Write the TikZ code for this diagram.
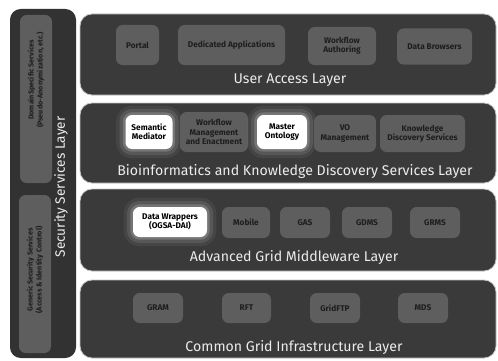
\documentclass[tikz,border=0pt]{standalone}
\usepackage{fontspec}
\setmainfont{Fira Sans}
\definecolor{layerfill}{HTML}{3A3A3A}
\definecolor{panelfill}{HTML}{323232}
\definecolor{boxfill}{HTML}{5E5E5E}
\definecolor{boxtext}{HTML}{1E1E1E}
\definecolor{labeltext}{HTML}{ECECEC}
\definecolor{layerline}{HTML}{C4C4C4}
\begin{document}
\begin{tikzpicture}[x=0.75pt,y=-0.75pt,
  layerbox/.style={draw=layerline,line width=0.6pt,fill=layerfill,rounded corners=9pt,inner sep=0pt},
  panelbox/.style={fill=panelfill,rounded corners=8pt,inner sep=0pt},
  sidebox/.style={fill=boxfill,rounded corners=5pt,inner sep=0pt},
  compbox/.style={fill=boxfill,rounded corners=5pt,inner sep=1pt,align=center,
    text=boxtext,font=\fontsize{6.2}{7}\selectfont\bfseries},
  whitebox/.style={compbox,fill=white,text=black,
    preaction={draw=white,line width=14pt,opacity=0.06},
    preaction={draw=white,line width=9pt,opacity=0.10},
    preaction={draw=white,line width=4pt,opacity=0.18}},
  layerlabel/.style={text=labeltext,font=\fontsize{10.6}{12}\selectfont},
  sidetext/.style={text=boxtext,font=\fontsize{5.4}{6.8}\selectfont\bfseries,align=center,rotate=90}
]
\useasboundingbox[fill=white] (0,0) rectangle (498,360);

% left security panel
\node[panelbox,minimum width=66*0.75pt,minimum height=349*0.75pt] (panel) at (43,183.5) {};
\node[sidebox,minimum width=32*0.75pt,minimum height=168*0.75pt] (domain) at (36,99) {};
\node[sidebox,minimum width=32*0.75pt,minimum height=158*0.75pt] (generic) at (35,274) {};
\node[sidetext] (domaintxt) at (36,80) {DomainSpecific Services\\(Pseudo-Anonymization, etc.)};
\node[sidetext] (generictxt) at (35,270) {Generic Security Services\\(Access \& Identity Control)};
\node[layerlabel,rotate=90,font=\fontsize{10.2}{12}\selectfont] (sectxt) at (61,187) {Security Services Layer};

% layers
\node[layerbox,minimum width=416*0.75pt,minimum height=81*0.75pt] (ual) at (288,54.5) {};
\node[layerbox,minimum width=416*0.75pt,minimum height=80*0.75pt] (bio) at (288,143) {};
\node[layerbox,minimum width=416*0.75pt,minimum height=82*0.75pt] (agm) at (288,230) {};
\node[layerbox,minimum width=416*0.75pt,minimum height=78*0.75pt] (cgi) at (288,319) {};

\node[layerlabel] (ualtxt) at (290,80) {User Access Layer};
\node[layerlabel] (biotxt) at (295,171) {Bioinformatics and Knowledge Discovery Services Layer};
\node[layerlabel] (agmtxt) at (294,257) {Advanced Grid Middleware Layer};
\node[layerlabel] (cgitxt) at (294,347) {Common Grid Infrastructure Layer};

% user access components
\node[compbox,minimum width=43*0.75pt,minimum height=40*0.75pt] (portal) at (137.5,45) {Portal};
\node[compbox,minimum width=107*0.75pt,minimum height=40*0.75pt] (dedapp) at (231.5,45) {Dedicated Applications};
\node[compbox,minimum width=68*0.75pt,minimum height=38*0.75pt] (wfauth) at (342,46) {Workflow\\Authoring};
\node[compbox,minimum width=75*0.75pt,minimum height=36*0.75pt] (databr) at (434.5,46.5) {Data Browsers};

% bioinformatics components
\node[whitebox,minimum width=47*0.75pt,minimum height=34*0.75pt] (semmed) at (149,132) {Semantic\\Mediator};
\node[compbox,minimum width=68*0.75pt,minimum height=40*0.75pt] (wfmgmt) at (214,132) {Workflow\\Management\\and Enactment};
\node[whitebox,minimum width=50*0.75pt,minimum height=34*0.75pt] (master) at (282,132) {Master\\Ontology};
\node[compbox,minimum width=62*0.75pt,minimum height=37*0.75pt] (vomgmt) at (345,133.5) {VO\\Management};
\node[compbox,minimum width=85*0.75pt,minimum height=37*0.75pt] (kds) at (422.5,133.5) {Knowledge\\Discovery Services};

% middleware components
\node[whitebox,minimum width=74*0.75pt,minimum height=30*0.75pt] (dwrap) at (170,222) {Data Wrappers\\(OGSA-DAI)};
\node[compbox,minimum width=48*0.75pt,minimum height=31*0.75pt] (mobile) at (246,222.5) {Mobile};
\node[compbox,minimum width=50*0.75pt,minimum height=31*0.75pt] (gas) at (305,222.5) {GAS};
\node[compbox,minimum width=50*0.75pt,minimum height=31*0.75pt] (gdms) at (367,222.5) {GDMS};
\node[compbox,minimum width=50*0.75pt,minimum height=31*0.75pt] (grms) at (435,222.5) {GRMS};

% infrastructure components
\node[compbox,minimum width=50*0.75pt,minimum height=30*0.75pt] (gram) at (158,308) {GRAM};
\node[compbox,minimum width=49*0.75pt,minimum height=30*0.75pt] (rft) at (246.5,308) {RFT};
\node[compbox,minimum width=50*0.75pt,minimum height=30*0.75pt] (gridftp) at (335,308) {GridFTP};
\node[compbox,minimum width=50*0.75pt,minimum height=30*0.75pt] (mds) at (423,308) {MDS};
\end{tikzpicture}
\end{document}
